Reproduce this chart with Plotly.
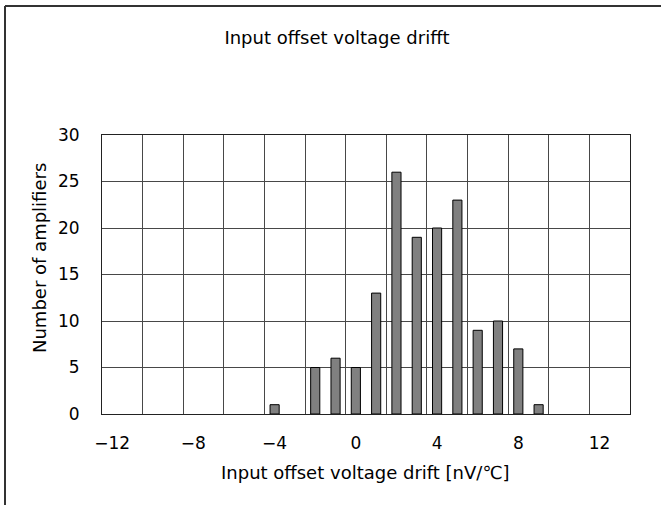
import plotly.graph_objects as go

# Histogram of input offset voltage drift across measured amplifiers
drift_nv_per_c = [-4, -2, -1, 0, 1, 2, 3, 4, 5, 6, 7, 8, 9]
amplifier_count = [1, 5, 6, 5, 13, 26, 19, 20, 23, 9, 10, 7, 1]
x_tick_values = [-12, -8, -4, 0, 4, 8, 12]
y_tick_values = [0, 5, 10, 15, 20, 25, 30]

FONT = "DejaVu Sans"
GRID = "#484848"

fig = go.Figure()
fig.add_trace(go.Bar(
    x=drift_nv_per_c,
    y=amplifier_count,
    width=0.45,
    marker=dict(color="#808080", line=dict(color="#000000", width=1)),
))

fig.update_layout(
    width=661,
    height=505,
    margin=dict(l=102, r=31, t=135, b=91),
    paper_bgcolor="white",
    plot_bgcolor="white",
    showlegend=False,
    font=dict(family=FONT, color="#000000", size=16),
    title=dict(
        text="Input offset voltage drifft",
        x=337 / 661, xanchor="center",
        y=1 - 38 / 505, yanchor="middle",
        font=dict(family=FONT, size=18, color="#000000"),
    ),
    xaxis=dict(
        range=[-12.5, 13.5],
        tickmode="array",
        tickvals=x_tick_values,
        ticktext=[str(v).replace("-", "\u2212") for v in x_tick_values],
        showgrid=False,
        zeroline=False,
        showline=True, linecolor="#222222", linewidth=1, mirror=True,
        ticks="",
        ticklabelstandoff=14,
        tickfont=dict(family=FONT, size=17),
        minor=dict(tick0=-10.5, dtick=2, showgrid=True,
                   gridcolor=GRID, gridwidth=1, ticks=""),
    ),
    yaxis=dict(
        range=[0, 30],
        tickmode="array",
        tickvals=y_tick_values,
        showgrid=True, gridcolor=GRID, gridwidth=1,
        zeroline=False,
        showline=True, linecolor="#222222", linewidth=1, mirror=True,
        ticks="",
        ticklabelstandoff=18,
        tickfont=dict(family=FONT, size=17),
    ),
    annotations=[
        dict(
            text="Input offset voltage drift [nV/\u2103]",
            xref="paper", yref="paper",
            x=(365 - 102) / 528, y=(414 - 472) / 279,
            xanchor="center", yanchor="middle",
            showarrow=False,
            font=dict(family=FONT, size=18),
        ),
        dict(
            text="Number of amplifiers",
            xref="paper", yref="paper",
            x=(39 - 102) / 528, y=(414 - 258) / 279,
            xanchor="center", yanchor="middle",
            textangle=-90,
            showarrow=False,
            font=dict(family=FONT, size=18),
        ),
    ],
    shapes=[
        # outer chart frame (left and top edges visible)
        dict(type="line", xref="paper", yref="paper",
             x0=(5 - 102) / 528, x1=(5 - 102) / 528,
             y0=(414 - 6) / 279, y1=(414 - 520) / 279,
             line=dict(color="#333333", width=2)),
        dict(type="line", xref="paper", yref="paper",
             x0=(5 - 102) / 528, x1=(680 - 102) / 528,
             y0=(414 - 6) / 279, y1=(414 - 6) / 279,
             line=dict(color="#333333", width=2)),
    ],
)

fig.write_html("out.html")
